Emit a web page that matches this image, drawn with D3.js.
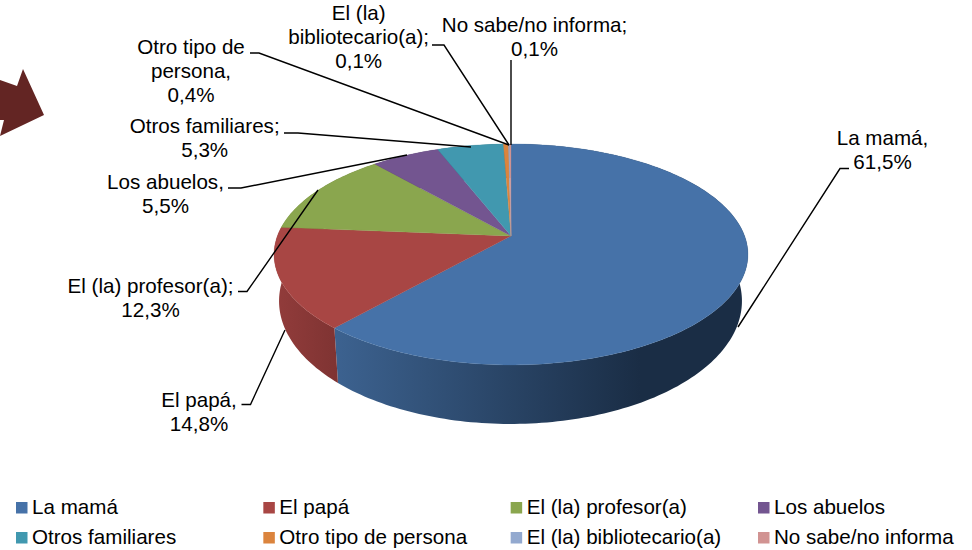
<!DOCTYPE html>
<html><head><meta charset="utf-8">
<style>html,body{margin:0;padding:0;background:#fff}svg{display:block}text{font-family:"Liberation Sans",Arial,sans-serif;fill:#000}</style>
<script src="https://d3js.org/d3.v7.min.js"></script></head><body>
<svg id="c" width="972" height="550"></svg>
<script>
const categories=["La mamá","El papá","El (la) profesor(a)","Los abuelos","Otros familiares","Otro tipo de persona","El (la) bibliotecario(a)","No sabe/no informa"];
const values=[61.5,14.8,12.3,5.5,5.3,0.4,0.1,0.1];
const valueLabels=["61,5%","14,8%","12,3%","5,5%","5,3%","0,4%","0,1%","0,1%"];
const topColors=["#4672a8","#a84644","#8aa64e","#735590","#4198af","#db843d","#93a9cf","#d19392"];
const wallLight=["#3d6391","#923c3b","#789040","#634a7d","#38849a","#bf7335","#7f93b4","#b67f7f"];
const wallDark=["#1a2d45","#7e3332","#5a6c30","#4a3860","#2a6474","#8f5628","#5f6e87","#885f5f"];
const labelLines=[["La mamá,","61,5%"],["El papá,","14,8%"],["El (la) profesor(a);","12,3%"],["Los abuelos,","5,5%"],["Otros familiares;","5,3%"],["Otro tipo de","persona,","0,4%"],["El (la)","bibliotecario(a);","0,1%"],["No sabe/no informa;","0,1%"]];
// layout (not data)
const FS=20.6;
const labelPos=[[882.5,145],[199,406.5],[150.5,292.5],[165.5,189],[204.7,133],[191,54],[358.7,20],[534.5,32]];
const leaders=[[[849,168.5],[840,168.5]],[[241.5,404.5],[250.5,404.5]],[[238,291.5],[247,291.5]],[[228,188],[241,188]],[[284,133],[298,133]],[[250,53],[259,53]],[[432,45],[444,45]],[[511,60],[511,60]]];
const leaderEnd=[[738,327],[285,330],[318,190],[407,155],[471,147],[509,145],[509,145],[511,145]];

const svg=d3.select("#c");
const defs=svg.append("defs");
const pie=d3.pie().sort(null).value(d=>d).startAngle(0).endAngle(2*Math.PI);
const arcs=pie(values);
const P=-0.167;
function rim(a,apexX,apexY,A,B){const u=Math.sin(a),v=-Math.cos(a),w=1+P*v;return [apexX+A*u/w,apexY+B*v/w];}
const topRim=a=>rim(a,511,236,233.6,107.4);
const botRim=a=>rim(a,510.5,280.5,228.2,119.5);
const steps=(s,e)=>{const n=Math.max(2,Math.ceil((e-s)/0.02));return d3.range(n+1).map(i=>s+(e-s)*i/n);};
const line=d3.line();

// decorative arrow at the left margin
svg.append("polygon").attr("points","23,69 44,115 0,136 4,120 0,120 0,80 17,86").attr("fill","#632523");

const gWall=svg.append("g"),gTop=svg.append("g");
arcs.forEach((d,i)=>{
  const id="w"+i;
  const x0=i==0?330:275,x1=i==0?640:340;
  const g=defs.append("linearGradient").attr("id",id).attr("gradientUnits","userSpaceOnUse").attr("x1",x0).attr("x2",x1).attr("y1",0).attr("y2",0);
  g.append("stop").attr("offset",0).attr("stop-color",wallLight[i]);
  g.append("stop").attr("offset",1).attr("stop-color",wallDark[i]);
  const as=steps(d.startAngle,d.endAngle);
  gWall.append("path").attr("d",line(as.map(topRim).concat(as.slice().reverse().map(botRim)))+"Z").attr("fill",`url(#${id})`);
});
arcs.forEach((d,i)=>{
  const as=steps(d.startAngle,d.endAngle);
  gTop.append("path").attr("d",line([[511,236]].concat(as.map(topRim)))+"Z").attr("fill",topColors[i]).attr("stroke",topColors[i]).attr("stroke-width",0.3);
});

// leader lines
labelLines.forEach((l,i)=>{
  const pts=[leaders[i][0],leaders[i][1],leaderEnd[i]];
  svg.append("path").attr("d",line(pts)).attr("fill","none").attr("stroke","#000").attr("stroke-width",1.4);
});
// labels
labelLines.forEach((l,i)=>{
  const t=svg.append("text").attr("text-anchor","middle").attr("font-size",FS);
  l.forEach((s,j)=>t.append("tspan").attr("x",labelPos[i][0]).attr("y",labelPos[i][1]+j*24).text(s));
});
// legend
const legX=d3.scalePoint().domain(d3.range(4)).range([16,758]);
const legY=d3.scalePoint().domain([0,1]).range([502,532]);
const lg=svg.append("g").selectAll("g").data(categories).join("g").attr("transform",(d,i)=>`translate(${legX(i%4)},${legY(Math.floor(i/4))})`);
lg.append("rect").attr("width",11.5).attr("height",11.5).attr("fill",(d,i)=>topColors[i]);
lg.append("text").attr("x",16).attr("y",12).attr("font-size",FS).text(d=>d);
</script></body></html>
